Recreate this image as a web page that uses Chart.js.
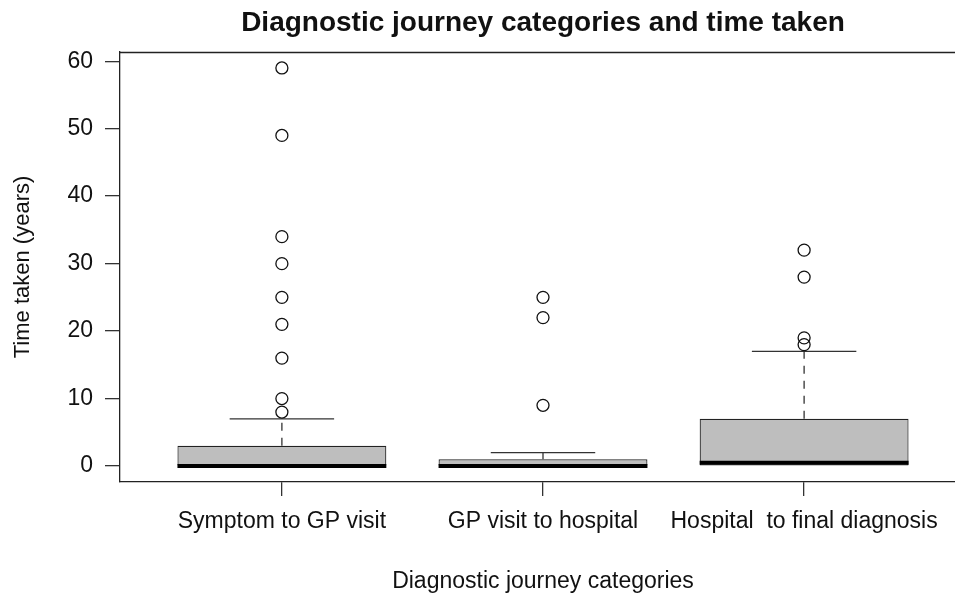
<!DOCTYPE html>
<html>
<head>
<meta charset="utf-8">
<script src="https://cdn.jsdelivr.net/npm/chart.js@4.4.1/dist/chart.umd.min.js"></script>
<style>
  html, body { margin: 0; padding: 0; background: #fff; overflow: hidden; }
  #wrap { width: 975px; height: 596px; position: relative; }
</style>
</head>
<body>
<div id="wrap"><canvas id="boxChart"></canvas></div>
<script>
// --- DATA --- //
const categories = ['Symptom to GP visit', 'GP visit to hospital', 'Hospital  to final diagnosis'];
const lowerWhisker = [0, 0, 0];
const q1 = [0, 0, 0];
const median = [0, 0, 0.5];
const q3 = [3, 1, 7];
const upperWhisker = [7, 2, 17];
const outliers = [
    [59, 49, 34, 30, 25, 21, 16, 10, 8],
    [25, 22, 9],
    [32, 28, 19, 18]
];
const yTicks = [0, 10, 20, 30, 40, 50, 60];

const FONT = '"Liberation Sans", Arial, Helvetica, sans-serif';
const INK = '#111';
const LINE = '#333';

// --- BUILD DATASETS --- //
const positions = categories.map((c, i) => i + 1);

const boxData = positions.map((x, i) => ({ x: x, y: [q1[i], q3[i]] }));

const whiskerSets = [];
positions.forEach((x, i) => {
    // dashed whiskers
    whiskerSets.push({
        type: 'line', order: 4,
        data: [{ x: x, y: q3[i] }, { x: x, y: upperWhisker[i] }],
        borderColor: LINE, borderWidth: 1.3, borderDash: [8, 7],
        pointRadius: 0, borderCapStyle: 'butt'
    });
    // upper staple (lower one sits on the box edge at 0)
    whiskerSets.push({
        type: 'line', order: 3,
        data: [{ x: x - 0.2, y: upperWhisker[i] }, { x: x + 0.2, y: upperWhisker[i] }],
        borderColor: LINE, borderWidth: 1.3,
        pointRadius: 0, borderCapStyle: 'butt'
    });
    // median
    whiskerSets.push({
        type: 'line', order: 2,
        data: [{ x: x - 0.4, y: median[i] }, { x: x + 0.4, y: median[i] }],
        borderColor: '#000', borderWidth: 4,
        pointRadius: 0, borderCapStyle: 'butt'
    });
});

const outlierData = [];
outliers.forEach((list, i) => list.forEach(v => outlierData.push({ x: positions[i], y: v })));

// --- PLUGIN: title + top frame --- //
const framePlugin = {
    id: 'frame',
    afterDraw(chart) {
        const { ctx, chartArea } = chart;
        ctx.save();
        ctx.strokeStyle = '#222';
        ctx.lineWidth = 1.3;
        ctx.beginPath();
        ctx.moveTo(chartArea.left, chartArea.top + 0.5);
        ctx.lineTo(chartArea.right, chartArea.top + 0.5);
        ctx.lineTo(chartArea.right - 0.5, chartArea.bottom);
        ctx.stroke();
        ctx.fillStyle = INK;
        ctx.font = 'bold 28px ' + FONT;
        ctx.textAlign = 'center';
        ctx.textBaseline = 'alphabetic';
        ctx.fillText('Diagnostic journey categories and time taken', (chartArea.left + chartArea.right) / 2, 31);
        ctx.restore();
    }
};

new Chart(document.getElementById('boxChart'), {
    type: 'bar',
    data: {
        datasets: [
            {
                type: 'bar', order: 5,
                data: boxData,
                backgroundColor: '#bebebe',
                borderColor: '#222',
                borderWidth: 1.2,
                borderSkipped: false,
                categoryPercentage: 0.8,
                barPercentage: 1
            },
            ...whiskerSets,
            {
                type: 'scatter', order: 1,
                data: outlierData,
                pointStyle: 'circle',
                pointRadius: 6,
                pointBackgroundColor: 'rgba(255,255,255,0)',
                pointBorderColor: '#111',
                pointBorderWidth: 1.3
            }
        ]
    },
    options: {
        responsive: true,
        maintainAspectRatio: false,
        animation: false,
        layout: { padding: { top: 52, right: 9, left: 0, bottom: 0 } },
        plugins: { legend: { display: false }, tooltip: { enabled: false } },
        scales: {
            x: {
                type: 'linear',
                offset: false,
                min: 0.38,
                max: 3.62,
                afterBuildTicks: (scale) => { scale.ticks = positions.map(v => ({ value: v })); },
                afterFit: (scale) => { scale.height = 114; },
                ticks: {
                    autoSkip: false, maxRotation: 0, minRotation: 0,
                    padding: 12,
                    color: INK,
                    font: { family: FONT, size: 23 },
                    callback: (v) => categories[v - 1]
                },
                grid: { display: true, offset: false, drawOnChartArea: false, drawTicks: true, tickLength: 14, color: LINE, lineWidth: 1.3 },
                border: { display: true, color: '#222', width: 1.3 },
                title: {
                    display: true,
                    text: 'Diagnostic journey categories',
                    color: INK,
                    font: { family: FONT, size: 23 },
                    padding: { top: 0, bottom: 1 }
                }
            },
            y: {
                type: 'linear',
                min: -2.36,
                max: 61.36,
                afterBuildTicks: (scale) => { scale.ticks = yTicks.map(v => ({ value: v })); },
                afterFit: (scale) => { scale.width = 120; },
                ticks: {
                    padding: 12,
                    color: INK,
                    font: { family: FONT, size: 23 }
                },
                grid: { display: true, drawOnChartArea: false, drawTicks: true, tickLength: 15, color: LINE, lineWidth: 1.3 },
                border: { display: true, color: '#222', width: 1.3 },
                title: {
                    display: true,
                    text: 'Time taken (years)',
                    color: INK,
                    font: { family: FONT, size: 22 },
                    padding: { top: 10, bottom: 0 }
                }
            }
        }
    },
    plugins: [framePlugin]
});
</script>
</body>
</html>
